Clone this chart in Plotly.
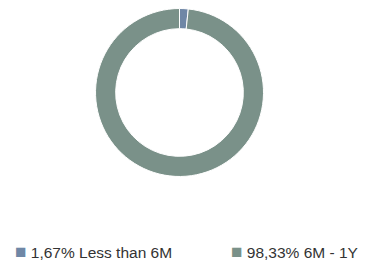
import plotly.graph_objects as go

categories = ["Less than 6M", "6M - 1Y"]
values = [1.67, 98.33]
colors = ["#6F87A6", "#7A9189"]
legend_x = [13, 229]

labels = [f"{v:.2f}".replace(".", ",") + "% " + c for v, c in zip(values, categories)]

fig = go.Figure(go.Pie(
    labels=labels,
    values=values,
    hole=0.76,
    sort=False,
    direction="clockwise",
    rotation=0,
    textinfo="none",
    hoverinfo="label",
    marker=dict(colors=colors, line=dict(color="white", width=1)),
    domain=dict(x=[0.2547, 0.7027], y=[0.3238, 0.9674]),
))

annotations = []
for lab, col, lx in zip(labels, colors, legend_x):
    annotations.append(dict(
        x=lx / 375, y=10 / 261, xref="paper", yref="paper",
        xanchor="left", yanchor="middle", showarrow=False,
        text=f"<span style='color:{col};font-size:19px'>■</span> {lab}",
        font=dict(size=15.5, color="#333333", family="Liberation Sans, Arial, sans-serif"),
    ))

fig.update_layout(
    width=375, height=261,
    margin=dict(l=0, r=0, t=0, b=0),
    paper_bgcolor="white",
    plot_bgcolor="white",
    font=dict(family="Liberation Sans, Arial, sans-serif", size=14, color="#333333"),
    showlegend=False,
    annotations=annotations,
)

fig.write_html("out.html", config={"displayModeBar": False},
               post_script="document.body.style.margin='0';")
